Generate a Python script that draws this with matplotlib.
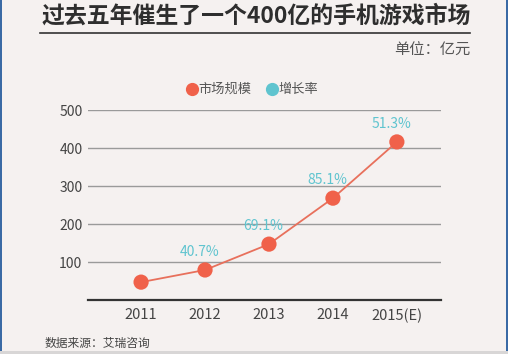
import matplotlib
matplotlib.use("Agg")
import matplotlib.pyplot as plt
from matplotlib.lines import Line2D
from matplotlib.patches import Rectangle

plt.rcParams['font.family'] = ['Noto Sans CJK SC', 'DejaVu Sans']

years = ["2011", "2012", "2013", "2014", "2015(E)"]
market = [47, 79, 147, 268, 416]
growth = [None, "40.7%", "69.1%", "85.1%", "51.3%"]
yticks = [100, 200, 300, 400, 500]

W, H = 508, 354
bg = "#f5f1f0"
red = "#f0614a"
cyan = "#5fc4cf"

fig = plt.figure(figsize=(W / 100, H / 100), dpi=100, facecolor=bg)

def fx(px):
    return px / W

def fy(py):
    return 1 - py / H

# axes: x from 88 to 441 px, y 0 at 300px, 500 at 110px
ax = fig.add_axes([fx(88), fy(300), (441 - 88) / W, (300 - 110) / H])
ax.set_facecolor(bg)
ax.set_ylim(0, 500)
ax.set_xlim(-0.83, 4.69)
x = list(range(len(years)))

for yv in yticks:
    ax.axhline(yv, color="#9a9a9a", lw=1.0, zorder=1)
ax.axhline(0, color="#333333", lw=1.6, zorder=1, clip_on=False)

ax.plot(x, market, color="#e8705c", lw=1.3, zorder=2)
ax.scatter(x, market, s=120, color=red, zorder=3, edgecolors="none")

for xi, yi, g in zip(x, market, growth):
    if g:
        ax.annotate(g, (xi, yi), xytext=(-4, 8), textcoords="offset points",
                    ha="center", va="bottom", color=cyan, fontsize=10)

for s in ax.spines.values():
    s.set_visible(False)
ax.set_yticks(yticks)
ax.set_yticklabels([str(v) for v in yticks], color="#444444", fontsize=10)
ax.set_xticks(x)
ax.set_xticklabels(years, color="#444444", fontsize=10.5)
ax.tick_params(length=0, pad=4)
ax.tick_params(axis="x", pad=6)

# title
fig.text(fx(256), fy(16), "过去五年催生了一个400亿的手机游戏市场", ha="center", va="center",
         fontsize=16.5, fontweight="bold", color="#2e2e2e")
fig.add_artist(Line2D([fx(40), fx(470)], [fy(33), fy(33)], color="#333333", lw=1.2))
fig.text(fx(470), fy(50), "单位：亿元", ha="right", va="center", fontsize=11, color="#555555")

# legend
fig.add_artist(Line2D([fx(192)], [fy(89)], marker="o", ms=8.5, color=red, lw=0))
fig.text(fx(198), fy(89), "市场规模", ha="left", va="center", fontsize=9.5, color="#555555")
fig.add_artist(Line2D([fx(272)], [fy(89)], marker="o", ms=8.5, color=cyan, lw=0))
fig.text(fx(278), fy(89), "增长率", ha="left", va="center", fontsize=9.5, color="#555555")

fig.text(fx(45), fy(343), "数据来源：艾瑞咨询", ha="left", va="center", fontsize=8.5, color="#444444")

# frame decorations
fig.add_artist(Rectangle((0, 0), fx(2), 1, transform=fig.transFigure, color="#3a6aa5", lw=0))
fig.add_artist(Rectangle((fx(506), 0), fx(2), 1, transform=fig.transFigure, color="#3a6aa5", lw=0))
fig.add_artist(Rectangle((0, 0), 1, (H - 351) / H, transform=fig.transFigure, color="#d8d6d6", lw=0))

fig.savefig("out.png", dpi=100, facecolor=bg)
